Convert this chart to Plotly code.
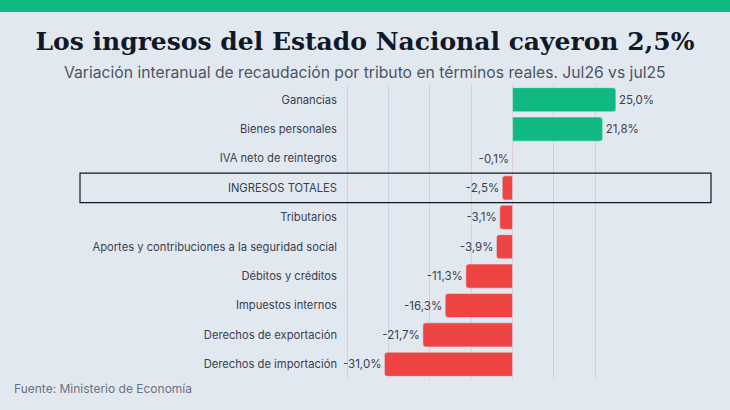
import plotly.graph_objects as go

# datos: variacion interanual real por tributo (jul26 vs jul25)
categorias = [
    "Ganancias",
    "Bienes personales",
    "IVA neto de reintegros",
    "INGRESOS TOTALES",
    "Tributarios",
    "Aportes y contribuciones a la seguridad social",
    "Débitos y créditos",
    "Impuestos internos",
    "Derechos de exportación",
    "Derechos de importación",
]
variacion = [25.0, 21.8, -0.1, -2.5, -3.1, -3.9, -11.3, -16.3, -21.7, -31.0]
etiquetas = [f"{v:.1f}%".replace(".", ",") for v in variacion]

VERDE = "#10b981"
ROJO = "#ef4444"
FONDO = "#e2e8f0"
colores = [VERDE if v > 0 else ROJO for v in variacion]

fig = go.Figure(go.Bar(
    x=variacion,
    y=categorias,
    orientation="h",
    marker=dict(color=colores, cornerradius=3),
    text=etiquetas,
    textposition="outside",
    textfont=dict(family="Inter", size=11.5, color="#374151"),
    cliponaxis=False,
))

fig.update_layout(
    width=730, height=410,
    paper_bgcolor=FONDO, plot_bgcolor=FONDO,
    margin=dict(l=346, r=110, t=85, b=31),
    bargap=0.18,
    showlegend=False,
    font=dict(family="Inter", color="#374151"),
    title=dict(
        text="<b>Los ingresos del Estado Nacional cayeron 2,5%</b>",
        font=dict(family="DejaVu Serif", size=25, color="#111827"),
        x=0.5, xanchor="center", y=0.9, yanchor="middle",
    ),
)

fig.update_xaxes(
    range=[-40.3, 26],
    dtick=10,
    showticklabels=False,
    showgrid=True, gridcolor="#cbd5e1", gridwidth=1,
    zeroline=True, zerolinecolor="#cbd5e1", zerolinewidth=1,
    fixedrange=True,
)
fig.update_yaxes(
    autorange="reversed",
    tickfont=dict(family="Inter", size=11.2, color="#374151"),
    ticklabelstandoff=8,
    showgrid=False,
    fixedrange=True,
)

# franja superior
fig.add_shape(type="rect", xref="paper", yref="paper",
              x0=-1.5, x1=2, y0=1.3, y1=1.0 + (85 - 12) / 294,
              fillcolor=VERDE, line_width=0, layer="below")
# recuadro de la fila de totales
fig.add_shape(type="rect", xref="paper", yref="y",
              x0=(80 - 346) / 274, x1=(711 - 346) / 274,
              y0=2.5, y1=3.5,
              line=dict(color="#111827", width=1.2), fillcolor="rgba(0,0,0,0)")

fig.add_annotation(
    text="Variación interanual de recaudación por tributo en términos reales. Jul26 vs jul25",
    xref="paper", yref="paper", x=(365 - 346) / 274, y=1.0 + (85 - 72) / 294,
    xanchor="center", yanchor="middle", showarrow=False,
    font=dict(family="Inter", size=15.7, color="#4b5563"),
)
fig.add_annotation(
    text="Fuente: Ministerio de Economía",
    xref="paper", yref="paper", x=(12 - 346) / 274, y=-(388 - 379) / 294,
    xanchor="left", yanchor="middle", showarrow=False,
    font=dict(family="Inter", size=12, color="#6b7280"),
)

fig.write_html("out.html", config={"displayModeBar": False},
               post_script="document.body.style.margin='0';")
